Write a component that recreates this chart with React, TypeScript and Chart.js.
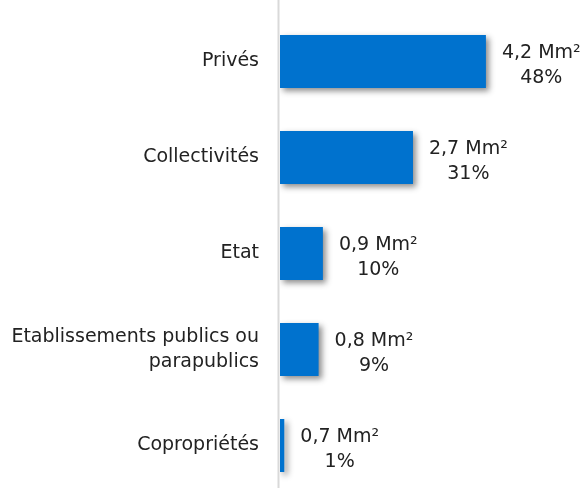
import React, { useEffect, useRef } from 'react';
import { Chart, registerables } from 'chart.js';

Chart.register(...registerables);

const categories: (string | string[])[] = [
  'Privés',
  'Collectivités',
  'Etat',
  ['Etablissements publics ou', 'parapublics'],
  'Copropriétés',
];
const shares = [48, 31, 10, 9, 1];
const areaLabels = ['4,2 Mm²', '2,7 Mm²', '0,9 Mm²', '0,8 Mm²', '0,7 Mm²'];
const shareLabels = ['48%', '31%', '10%', '9%', '1%'];

const FONT_FAMILY = "'DejaVu Sans', sans-serif";
const FONT_SIZE = 19;
const TEXT_COLOR = '#222222';
const BAR_COLOR = '#0072CE';

const customPlugin = {
  id: 'customDecor',
  beforeDatasetsDraw(chart: any) {
    const ctx = chart.ctx;
    ctx.save();
    ctx.shadowColor = 'rgba(0,0,0,0.45)';
    ctx.shadowBlur = 6;
    ctx.shadowOffsetX = 3;
    ctx.shadowOffsetY = 3;
  },
  afterDatasetsDraw(chart: any) {
    const ctx = chart.ctx;
    ctx.restore();
    ctx.save();
    const x = chart.chartArea.left - 1.5;
    ctx.strokeStyle = '#d9d9d9';
    ctx.lineWidth = 2;
    ctx.beginPath();
    ctx.moveTo(x, 0);
    ctx.lineTo(x, chart.height);
    ctx.stroke();

    ctx.font = `${FONT_SIZE}px ${FONT_FAMILY}`;
    ctx.fillStyle = TEXT_COLOR;
    ctx.textAlign = 'center';
    ctx.textBaseline = 'middle';
    const meta = chart.getDatasetMeta(0);
    meta.data.forEach((bar: any, i: number) => {
      const l1 = areaLabels[i];
      const l2 = shareLabels[i];
      const w = Math.max(ctx.measureText(l1).width, ctx.measureText(l2).width);
      const cx = bar.x + 16 + w / 2;
      ctx.fillText(l1, cx, bar.y - 8);
      ctx.fillText(l2, cx, bar.y + 17);
    });
    ctx.restore();
  },
};

export default function App() {
  const ref = useRef<HTMLCanvasElement | null>(null);

  useEffect(() => {
    if (!ref.current) return;
    const chart = new Chart(ref.current, {
      type: 'bar',
      data: {
        labels: categories as any,
        datasets: [
          {
            data: shares,
            backgroundColor: BAR_COLOR,
            borderWidth: 0,
            barPercentage: 0.552,
            categoryPercentage: 1,
          },
        ],
      },
      options: {
        indexAxis: 'y',
        responsive: false,
        animation: false,
        layout: { padding: { top: 13.5, bottom: 6.5, left: 0, right: 47.6 } },
        plugins: {
          legend: { display: false },
          tooltip: { enabled: false },
        },
        scales: {
          x: { display: false, min: 0, max: 60 },
          y: {
            grid: { display: false },
            border: { display: false },
            afterFit: (scale: any) => {
              scale.width = 280;
              scale.paddingTop = 0;
              scale.paddingBottom = 0;
            },
            ticks: {
              padding: 13,
              color: TEXT_COLOR,
              font: { family: FONT_FAMILY, size: FONT_SIZE, lineHeight: 1.3 },
            },
          },
        },
      },
      plugins: [customPlugin],
    });
    return () => chart.destroy();
  }, []);

  return (
    <div
      style={{
        position: 'fixed',
        left: 0,
        top: 0,
        width: 585,
        height: 488,
        overflow: 'hidden',
        background: '#fff',
      }}
    >
      <canvas ref={ref} width={585} height={500} style={{ display: 'block' }} />
    </div>
  );
}
